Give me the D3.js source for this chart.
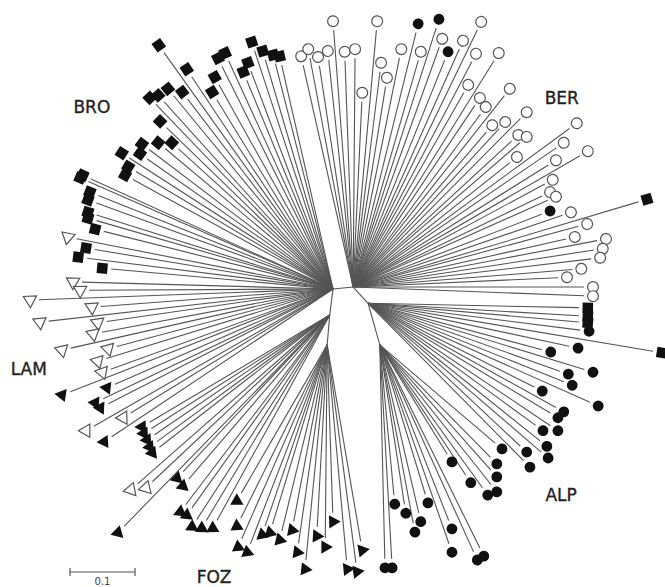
<!DOCTYPE html>
<html>
<head>
<meta charset="utf-8">
<script src="https://cdn.jsdelivr.net/npm/d3@7"></script>
<style>
  body { margin: 0; background: #fff; }
  svg { display: block; }
</style>
</head>
<body>
<div id="chart"></div>
<script>
// internal nodes, in substitutions/site relative to the root
var hubs = [
  { id: 0, parent: null, x: 0.000, y: 0.000 },
  { id: 1, parent: 0, x: 0.031, y: -0.003 },
  { id: 2, parent: 1, x: 0.054, y: 0.022 },
  { id: 3, parent: 2, x: 0.072, y: 0.086 },
  { id: 4, parent: 0, x: -0.005, y: 0.040 },
  { id: 5, parent: 4, x: -0.009, y: 0.086 }
];

// tips: [x, y, hub]
var openCircles = [
  [0.000,-0.412,1],[0.068,-0.412,1],[0.228,-0.411,1],[-0.049,-0.358,1],[-0.038,-0.369,1],
  [-0.023,-0.357,1],[-0.008,-0.366,1],[0.018,-0.365,1],[0.034,-0.369,1],[0.074,-0.348,1],
  [0.083,-0.325,1],[0.045,-0.302,1],[0.105,-0.369,1],[0.135,-0.365,1],[0.168,-0.385,1],
  [0.200,-0.382,1],[0.220,-0.362,1],[0.255,-0.363,1],[0.208,-0.314,1],[0.272,-0.308,1],
  [0.226,-0.294,1],[0.235,-0.280,1],[0.298,-0.272,1],[0.245,-0.252,1],[0.265,-0.257,1],
  [0.285,-0.237,1],[0.298,-0.234,1],[0.283,-0.203,1],[0.375,-0.255,1],[0.355,-0.225,1],
  [0.392,-0.212,1],[0.343,-0.198,1],[0.338,-0.168,1],[0.334,-0.149,1],[0.343,-0.142,1],
  [0.366,-0.118,1],[0.391,-0.100,1],[0.372,-0.080,1],[0.420,-0.077,1],[0.415,-0.062,1],
  [0.411,-0.048,1],[0.382,-0.031,1],[0.360,-0.018,1],[0.400,-0.003,1],[0.400,0.011,1]
];

var filledCircles = [
  [0.131,-0.408,1],[0.163,-0.415,1],[0.177,-0.365,1],[0.334,-0.120,1],[0.394,0.065,2],
  [0.335,0.097,2],[0.377,0.091,2],[0.362,0.131,2],[0.400,0.128,2],[0.368,0.148,2],
  [0.322,0.157,2],[0.408,0.180,2],[0.355,0.189,2],[0.346,0.198,2],[0.323,0.218,2],
  [0.346,0.218,2],[0.329,0.242,2],[0.331,0.260,2],[0.298,0.251,2],[0.303,0.274,2],
  [0.260,0.246,3],[0.252,0.269,3],[0.252,0.289,3],[0.252,0.312,3],[0.238,0.317,3],
  [0.212,0.298,3],[0.183,0.266,3],[0.146,0.329,3],[0.095,0.331,3],[0.112,0.345,3],
  [0.135,0.358,3],[0.126,0.374,3],[0.183,0.369,3],[0.183,0.405,3],[0.232,0.411,3],
  [0.222,0.417,3],[0.080,0.429,3],[0.091,0.429,3]
];

var filledSquares = [
  [-0.268,-0.375,0],[-0.225,-0.338,0],[-0.282,-0.294,0],[-0.269,-0.298,0],[-0.254,-0.308,0],
  [-0.232,-0.303,0],[-0.266,-0.258,0],[-0.269,-0.225,0],[-0.248,-0.225,0],[-0.294,-0.223,0],
  [-0.297,-0.208,0],[-0.325,-0.209,0],[-0.315,-0.188,0],[-0.320,-0.175,0],[-0.186,-0.303,0],
  [-0.182,-0.326,0],[-0.177,-0.355,0],[-0.166,-0.363,0],[-0.138,-0.334,0],[-0.131,-0.348,0],
  [-0.125,-0.380,0],[-0.108,-0.366,0],[-0.092,-0.360,0],[-0.082,-0.358,0],[-0.385,-0.175,0],
  [-0.389,-0.171,0],[-0.374,-0.149,0],[-0.377,-0.137,0],[-0.377,-0.118,0],[-0.377,-0.109,0],
  [-0.366,-0.092,0],[-0.380,-0.063,0],[-0.392,-0.049,0],[-0.355,-0.032,0],
  [0.483,-0.138,1],[0.506,0.098,2],[0.392,0.029,2],[0.392,0.042,2],[0.392,0.052,2]
];

var openTriangles = [
  [-0.408,-0.080,0],[-0.400,-0.011,0],[-0.389,0.002,0],[-0.466,0.017,0],[-0.371,0.028,0],
  [-0.451,0.051,0],[-0.362,0.052,0],[-0.369,0.069,0],[-0.417,0.094,0],[-0.346,0.092,0],
  [-0.362,0.111,0],[-0.355,0.128,0],[-0.323,0.198,0],[-0.380,0.218,0],[-0.311,0.309,4],
  [-0.288,0.306,4]
];

var filledTriangles = [
  [-0.417,0.163,0],[-0.348,0.152,0],[-0.366,0.175,0],[-0.358,0.183,0],[-0.352,0.235,0],
  [-0.294,0.212,4],[-0.291,0.222,4],[-0.286,0.232,4],[-0.282,0.243,4],[-0.278,0.252,4],
  [-0.331,0.375,4],[-0.240,0.291,4],[-0.231,0.303,4],[-0.235,0.343,4],[-0.225,0.348,4],
  [-0.217,0.366,4],[-0.202,0.368,4],[-0.185,0.368,4],[-0.148,0.326,5],[-0.148,0.365,5],
  [-0.146,0.397,5],[-0.132,0.405,5],[-0.109,0.378,5],[-0.097,0.375,5],[-0.082,0.386,5],
  [-0.063,0.371,5],[-0.055,0.405,5],[-0.025,0.380,5],[-0.012,0.397,5],[0.000,0.358,5],
  [0.045,0.402,5],[-0.043,0.431,5],[0.022,0.431,5],[0.037,0.435,5]
];

var cladeLabels = ["BRO", "BER", "LAM", "ALP", "FOZ"];
var labelPos = [[-0.371,-0.280], [0.352,-0.294], [-0.468,0.123], [0.351,0.317], [-0.183,0.443]];
var scaleBarValue = 0.1;

var width = 665, height = 587;
var cx = 333, cy = 289, unit = 65; // px per 0.1

var x = d3.scaleLinear().domain([-0.1, 0.1]).range([cx - unit, cx + unit]);
var y = d3.scaleLinear().domain([-0.1, 0.1]).range([cy - unit, cy + unit]);

var svg = d3.select("#chart").append("svg")
    .attr("width", width)
    .attr("height", height);

var hubById = {};
hubs.forEach(function(h) { hubById[h.id] = h; });

// internal branches
var gLines = svg.append("g")
    .attr("stroke", "#555")
    .attr("stroke-width", 1.1)
    .attr("fill", "none");

gLines.selectAll("line.stem")
    .data(hubs.filter(function(h) { return h.parent !== null; }))
  .enter().append("line")
    .attr("class", "stem")
    .attr("x1", function(d) { return x(hubById[d.parent].x); })
    .attr("y1", function(d) { return y(hubById[d.parent].y); })
    .attr("x2", function(d) { return x(d.x); })
    .attr("y2", function(d) { return y(d.y); });

var groups = [
  { data: openCircles, kind: "oc" },
  { data: filledCircles, kind: "fc" },
  { data: filledSquares, kind: "sq" },
  { data: openTriangles, kind: "ot" },
  { data: filledTriangles, kind: "ft" }
];

var tips = [];
groups.forEach(function(g) {
  g.data.forEach(function(d) {
    var h = hubById[d[2]];
    var x1 = x(h.x), y1 = y(h.y), x2 = x(d[0]), y2 = y(d[1]);
    var ang = Math.atan2(y2 - y1, x2 - x1);
    tips.push({ kind: g.kind, x1: x1, y1: y1, x2: x2, y2: y2, ang: ang });
  });
});

var gap = 9;
gLines.selectAll("line.tip")
    .data(tips)
  .enter().append("line")
    .attr("class", "tip")
    .attr("x1", function(d) { return d.x1; })
    .attr("y1", function(d) { return d.y1; })
    .attr("x2", function(d) { return d.x2 - gap * Math.cos(d.ang); })
    .attr("y2", function(d) { return d.y2 - gap * Math.sin(d.ang); });

var symCircle = d3.symbol().type(d3.symbolCircle).size(92);
var symSquare = d3.symbol().type(d3.symbolSquare).size(110);
var symTri = d3.symbol().type(d3.symbolTriangle).size(76);

var gMarks = svg.append("g");
gMarks.selectAll("path.mark")
    .data(tips)
  .enter().append("path")
    .attr("class", "mark")
    .attr("d", function(d) {
      if (d.kind === "oc" || d.kind === "fc") return symCircle();
      if (d.kind === "sq") return symSquare();
      return symTri();
    })
    .attr("transform", function(d) {
      return "translate(" + d.x2 + "," + d.y2 + ") rotate(" + (d.ang * 180 / Math.PI) + ")";
    })
    .attr("fill", function(d) {
      return (d.kind === "oc" || d.kind === "ot") ? "#fff" : "#111";
    })
    .attr("stroke", function(d) {
      return (d.kind === "oc" || d.kind === "ot") ? "#555" : "none";
    })
    .attr("stroke-width", 1.2);

// clade labels
svg.selectAll("text.clade")
    .data(cladeLabels)
  .enter().append("text")
    .attr("class", "clade")
    .attr("x", function(d, i) { return x(labelPos[i][0]); })
    .attr("y", function(d, i) { return y(labelPos[i][1]); })
    .attr("text-anchor", "middle")
    .attr("dy", "0.36em")
    .style("font-family", "DejaVu Sans, Verdana, sans-serif")
    .style("font-size", "17px")
    .style("fill", "#222")
    .style("stroke", "#222")
    .style("stroke-width", 0.35)
    .text(function(d) { return d; });

// scale bar
var bar = d3.scaleLinear().domain([0, scaleBarValue]).range([70, 70 + unit]);
var barY = 572;
var gBar = svg.append("g").attr("stroke", "#555").attr("stroke-width", 1.2);
gBar.append("line")
    .attr("x1", bar(0)).attr("x2", bar(scaleBarValue))
    .attr("y1", barY).attr("y2", barY);
gBar.selectAll("line.end")
    .data([0, scaleBarValue])
  .enter().append("line")
    .attr("class", "end")
    .attr("x1", function(d) { return bar(d); })
    .attr("x2", function(d) { return bar(d); })
    .attr("y1", barY - 4).attr("y2", barY + 4);
svg.append("text")
    .attr("x", bar(scaleBarValue / 2))
    .attr("y", 585)
    .attr("text-anchor", "middle")
    .style("font-family", "DejaVu Sans, Verdana, sans-serif")
    .style("font-size", "10px")
    .style("fill", "#444")
    .text(scaleBarValue);
</script>
</body>
</html>
